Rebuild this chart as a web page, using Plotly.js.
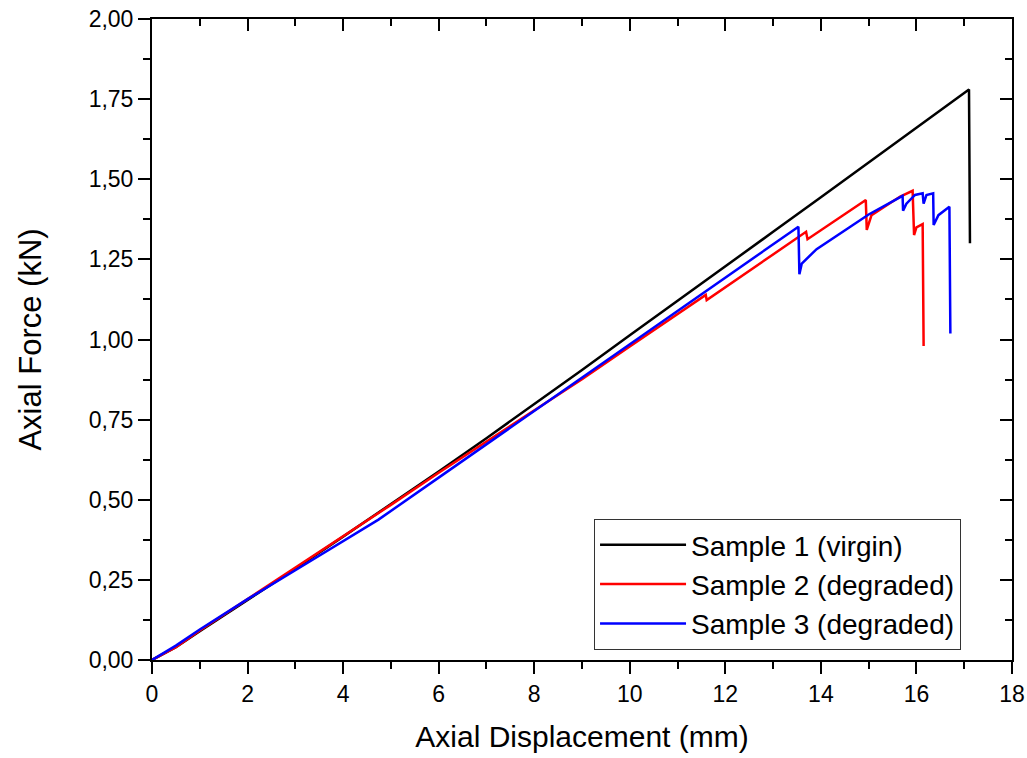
<!DOCTYPE html>
<html>
<head>
<meta charset="utf-8">
<script src="https://cdn.plot.ly/plotly-3.0.1.min.js"></script>
<style>html,body{margin:0;padding:0;background:#fff;}#chart{width:1027px;height:758px;}</style>
</head>
<body>
<div id="chart"></div>
<script>
// Sample 1 (virgin)
const blackX = [0,0.5,1,2,3,4,5,6,7,8,9,10,11,12,13,14,15,16,17.1,17.12];
const blackY = [0,0.04,0.09,0.187,0.285,0.385,0.486,0.588,0.692,0.798,0.905,1.013,1.12,1.228,1.336,1.444,1.552,1.66,1.78,1.30];
// Sample 2 (degraded)
const redX = [0,0.5,1,2,3,4,5,6,7,7.91,9,10,11,11.59,11.61,12.5,13.69,13.72,14.94,14.96,15.06,15.66,15.92,15.95,16.0,16.13,16.15];
const redY = [0,0.04,0.092,0.19,0.287,0.384,0.484,0.584,0.682,0.77,0.876,0.978,1.08,1.139,1.123,1.215,1.336,1.313,1.435,1.342,1.388,1.446,1.464,1.326,1.35,1.36,0.98];
// Sample 3 (degraded)
const blueX = [0,0.5,1,2,3,4,4.74,6,7,8,9,10,11,12,13,13.53,13.55,13.6,13.91,15.0,15.71,15.72,15.79,15.97,16.13,16.15,16.21,16.35,16.36,16.46,16.69,16.71];
const blueY = [0,0.045,0.095,0.19,0.28,0.37,0.438,0.569,0.673,0.778,0.882,0.986,1.089,1.193,1.297,1.352,1.204,1.237,1.282,1.39,1.448,1.402,1.424,1.451,1.456,1.424,1.451,1.456,1.357,1.388,1.414,1.019];

const seriesNames = ["Sample 1 (virgin)", "Sample 2 (degraded)", "Sample 3 (degraded)"];
const xTitle = "Axial Displacement (mm)";
const yTitle = "Axial Force (kN)";

const FONT = "Liberation Sans, Arial, sans-serif";
const traces = [
  {x: blackX, y: blackY, mode: "lines", name: seriesNames[0], line: {color: "#000000", width: 2.5}},
  {x: redX, y: redY, mode: "lines", name: seriesNames[1], line: {color: "#ff0000", width: 2.5}},
  {x: blueX, y: blueY, mode: "lines", name: seriesNames[2], line: {color: "#0000ff", width: 2.5}},
  {x: [], y: [], xaxis: "x2", yaxis: "y2", showlegend: false, hoverinfo: "skip", mode: "lines"}
];

const axisCommon = {
  showline: true, linecolor: "#000", linewidth: 2, showgrid: false, zeroline: false,
  tickcolor: "#000", tickwidth: 2, ticklen: 12
};

const layout = {
  width: 1027, height: 758,
  margin: {l: 152, r: 15, t: 19, b: 98},
  paper_bgcolor: "#fff", plot_bgcolor: "#fff",
  separators: ", ",
  font: {family: FONT, color: "#000"},
  showlegend: true,
  legend: {
    x: 0.514, y: 0.22, xanchor: "left", yanchor: "top",
    bordercolor: "#333", borderwidth: 1, bgcolor: "#fff",
    font: {family: FONT, size: 28, color: "#000"},
    itemwidth: 86,
    tracegroupgap: 0
  },
  xaxis: Object.assign({}, axisCommon, {
    range: [0, 18], dtick: 2, tick0: 0, ticks: "outside",
    tickfont: {family: FONT, size: 23, color: "#000"},
    minor: {dtick: 1, ticks: "outside", ticklen: 7, tickwidth: 2, tickcolor: "#000"},
    title: {text: xTitle, font: {family: FONT, size: 30, color: "#000"}, standoff: 20}
  }),
  yaxis: Object.assign({}, axisCommon, {
    range: [0, 2], dtick: 0.25, tick0: 0, ticks: "outside", tickformat: ".2f",
    tickfont: {family: FONT, size: 23, color: "#000"},
    minor: {dtick: 0.125, ticks: "outside", ticklen: 7, tickwidth: 2, tickcolor: "#000"},
    title: {text: yTitle, font: {family: FONT, size: 31, color: "#000"}, standoff: 38}
  }),
  xaxis2: Object.assign({}, axisCommon, {
    overlaying: "x", side: "top", range: [0, 18], dtick: 2, tick0: 0,
    ticks: "inside", showticklabels: false,
    minor: {dtick: 1, ticks: "inside", ticklen: 7, tickwidth: 2, tickcolor: "#000"}
  }),
  yaxis2: Object.assign({}, axisCommon, {
    overlaying: "y", side: "right", range: [0, 2], dtick: 0.25, tick0: 0,
    ticks: "inside", showticklabels: false,
    minor: {dtick: 0.125, ticks: "inside", ticklen: 7, tickwidth: 2, tickcolor: "#000"}
  })
};

Plotly.newPlot("chart", traces, layout, {staticPlot: true, displayModeBar: false});
</script>
</body>
</html>
